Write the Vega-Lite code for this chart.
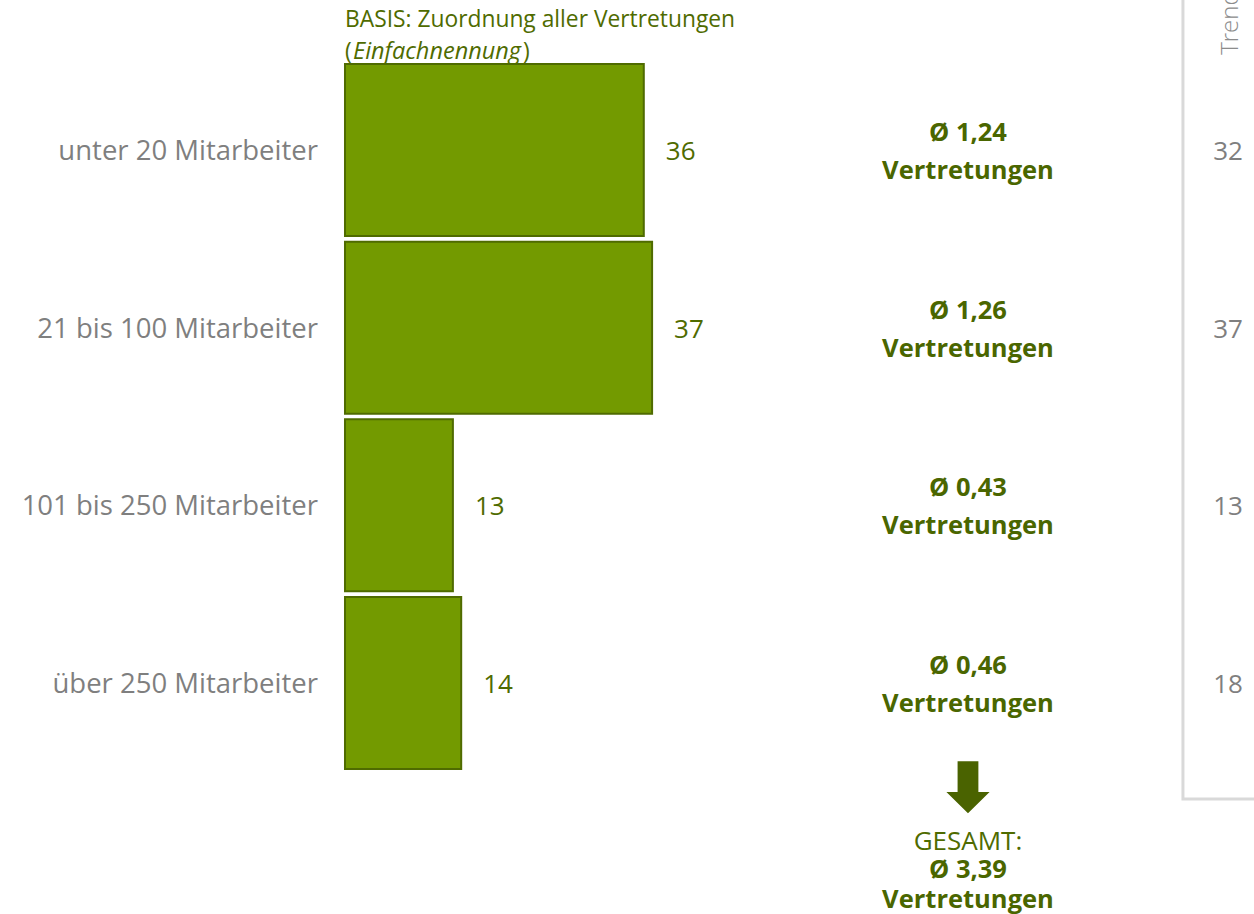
{
  "$schema": "https://vega.github.io/schema/vega-lite/v6.json",
  "width": 1254,
  "height": 914,
  "autosize": {"type": "fit", "contains": "padding"},
  "padding": 0,
  "background": "#ffffff",
  "config": {
    "view": {"stroke": null},
    "font": "Open Sans",
    "locale": {"number": {"decimal": ",", "thousands": ".", "grouping": [3], "currency": ["Ø ", ""]}}
  },
  "data": {"values": [
    {"Kategorie": "unter 20 Mitarbeiter", "Anzahl": 36, "Schnitt": 1.24, "Trend": 32},
    {"Kategorie": "21 bis 100 Mitarbeiter", "Anzahl": 37, "Schnitt": 1.26, "Trend": 37},
    {"Kategorie": "101 bis 250 Mitarbeiter", "Anzahl": 13, "Schnitt": 0.43, "Trend": 13},
    {"Kategorie": "über 250 Mitarbeiter", "Anzahl": 14, "Schnitt": 0.46, "Trend": 18}
  ]},
  "resolve": {"scale": {"y": "independent"}},
  "layer": [
    {
      "layer": [
        {
          "mark": {"type": "bar", "fill": "#739a00", "stroke": "#4f6b00", "strokeWidth": 2},
          "encoding": {
            "y": {"field": "Kategorie", "type": "nominal", "sort": null, "axis": null,
                  "scale": {"range": [61.16, 771.84], "paddingInner": 0.032, "paddingOuter": 0.016}},
            "x": {"field": "Anzahl", "type": "quantitative", "axis": null,
                  "scale": {"domain": [-41.566, 109.52], "nice": false, "zero": false}},
            "x2": {"datum": 0}
          }
        },
        {
          "mark": {"type": "text", "align": "right", "baseline": "middle", "dx": -27, "dy": 2, "fontSize": 27.5, "color": "#7f7f7f"},
          "encoding": {
            "y": {"field": "Kategorie", "type": "nominal", "sort": null},
            "x": {"datum": 0},
            "text": {"field": "Kategorie"}
          }
        },
        {
          "mark": {"type": "text", "align": "left", "baseline": "middle", "dx": 22, "dy": 2, "fontSize": 26, "color": "#4f6b00"},
          "encoding": {
            "y": {"field": "Kategorie", "type": "nominal", "sort": null},
            "x": {"field": "Anzahl", "type": "quantitative"},
            "text": {"field": "Anzahl"}
          }
        },
        {
          "mark": {"type": "text", "align": "center", "baseline": "middle", "dy": -17, "fontSize": 25.5, "fontWeight": "bold", "color": "#4a6600"},
          "encoding": {
            "y": {"field": "Kategorie", "type": "nominal", "sort": null},
            "x": {"datum": 75.06},
            "text": {"field": "Schnitt", "type": "quantitative", "format": "$.2f"}
          }
        },
        {
          "mark": {"type": "text", "align": "center", "baseline": "middle", "dy": 21, "fontSize": 25.5, "fontWeight": "bold", "color": "#4a6600"},
          "encoding": {
            "y": {"field": "Kategorie", "type": "nominal", "sort": null},
            "x": {"datum": 75.06},
            "text": {"value": "Vertretungen"}
          }
        },
        {
          "mark": {"type": "text", "align": "center", "baseline": "middle", "dy": 2, "fontSize": 26, "color": "#7f7f7f"},
          "encoding": {
            "y": {"field": "Kategorie", "type": "nominal", "sort": null},
            "x": {"datum": 106.4},
            "text": {"field": "Trend"}
          }
        }
      ]
    },
    {
      "layer": [
        {
          "data": {"values": [{}]},
          "mark": {"type": "rect", "fill": null, "fillOpacity": 0, "stroke": "#d9d9d9", "strokeWidth": 3, "clip": true},
          "encoding": {
            "x": {"datum": 100.96},
            "x2": {"datum": 130},
            "y": {"datum": -1, "type": "quantitative", "axis": null,
                  "scale": {"domain": [0.156, 5.3], "reverse": true, "nice": false, "zero": false}},
            "y2": {"datum": 4.658}
          }
        },
        {
          "data": {"values": [{}]},
          "mark": {"type": "text", "align": "left", "baseline": "middle", "angle": 270, "fontSize": 24, "fontWeight": 300, "color": "#8c8c8c", "clip": true},
          "encoding": {
            "x": {"datum": 106.75},
            "y": {"datum": 0.465},
            "text": {"value": "Trend"}
          }
        },
        {
          "data": {"values": [{}]},
          "mark": {"type": "text", "align": "left", "baseline": "middle", "fontSize": 22.8, "color": "#4f6b00"},
          "encoding": {
            "x": {"datum": 0},
            "y": {"datum": 0.268},
            "text": {"value": "BASIS: Zuordnung aller Vertretungen"}
          }
        },
        {
          "data": {"values": [{}]},
          "mark": {"type": "text", "align": "left", "baseline": "middle", "fontSize": 22.8, "color": "#4f6b00"},
          "encoding": {
            "x": {"datum": 0},
            "y": {"datum": 0.448},
            "text": {"value": "("}
          }
        },
        {
          "data": {"values": [{}]},
          "mark": {"type": "text", "align": "left", "baseline": "middle", "dx": 8, "fontSize": 23.5, "fontStyle": "italic", "color": "#4f6b00"},
          "encoding": {
            "x": {"datum": 0},
            "y": {"datum": 0.448},
            "text": {"value": "Einfachnennung"}
          }
        },
        {
          "data": {"values": [{}]},
          "mark": {"type": "text", "align": "left", "baseline": "middle", "dx": 178, "fontSize": 22.8, "color": "#4f6b00"},
          "encoding": {
            "x": {"datum": 0},
            "y": {"datum": 0.448},
            "text": {"value": ")"}
          }
        },
        {
          "data": {"values": [{}]},
          "mark": {"type": "point", "shape": "M -0.4 -1 L 0.4 -1 L 0.4 0.19 L 0.83 0.19 L 0 1 L -0.83 0.19 L -0.4 0.19 Z",
                   "size": 2704, "filled": true, "fill": "#4a6300", "opacity": 1, "strokeWidth": 0},
          "encoding": {
            "x": {"datum": 75.06},
            "y": {"datum": 4.591}
          }
        },
        {
          "data": {"values": [{}]},
          "mark": {"type": "text", "align": "center", "baseline": "middle", "fontSize": 26, "color": "#4f6b00"},
          "encoding": {
            "x": {"datum": 75.06},
            "y": {"datum": 4.9},
            "text": {"value": "GESAMT:"}
          }
        },
        {
          "mark": {"type": "text", "align": "center", "baseline": "middle", "fontSize": 25.5, "fontWeight": "bold", "color": "#4a6600"},
          "encoding": {
            "x": {"datum": 75.06},
            "y": {"datum": 5.055},
            "text": {"aggregate": "sum", "field": "Schnitt", "type": "quantitative", "format": "$.2f"}
          }
        },
        {
          "data": {"values": [{}]},
          "mark": {"type": "text", "align": "center", "baseline": "middle", "fontSize": 25.5, "fontWeight": "bold", "color": "#4a6600"},
          "encoding": {
            "x": {"datum": 75.06},
            "y": {"datum": 5.225},
            "text": {"value": "Vertretungen"}
          }
        }
      ]
    }
  ]
}
